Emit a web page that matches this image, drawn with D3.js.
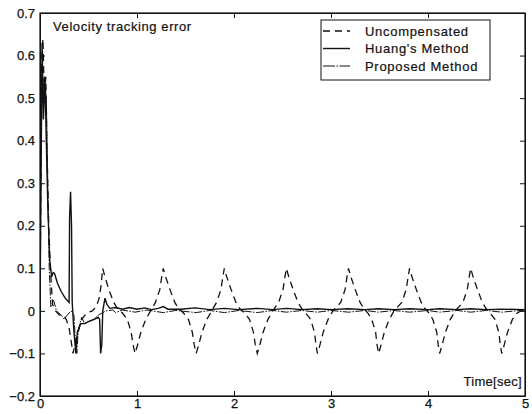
<!DOCTYPE html>
<html>
<head>
<meta charset="utf-8">
<script src="https://cdn.jsdelivr.net/npm/d3@7"></script>
<style>
body { margin: 0; background: #fff; }
svg { display: block; }
.axis text { font-family: Arial, "Liberation Sans", sans-serif; font-size: 13px; fill: #111; stroke: #111; stroke-width: 0.25px; }
.axis line, .axis path { stroke: #111; }
</style>
</head>
<body>
<svg id="vis" width="532" height="414"></svg>
<script>
// tick values
var xTicks = [0, 1, 2, 3, 4, 5];
var yTicks = [-0.2, -0.1, 0, 0.1, 0.2, 0.3, 0.4, 0.5, 0.6, 0.7];

var seriesNames = ["Uncompensated", "Huang's Method", "Proposed Method"];

// [time, error]
var uncompensated = [
	[0,0],[0.01,0.35],[0.02,0.6],[0.03,0.64],[0.045,0.5],[0.06,0.55],[0.075,0.35],[0.09,0.2],[0.105,0.11],[0.12,0.05],
	[0.13,0.015],[0.16,0.0],[0.2,-0.01],[0.24,-0.01],[0.27,-0.02],[0.3,-0.04],[0.32,-0.07],[0.34,-0.1],[0.36,-0.08],
	[0.39,-0.05],[0.43,-0.02],[0.48,-0.005],[0.54,0.0],
	[0.58,0.01],[0.61,0.03],[0.63,0.06],[0.646,0.1],[0.67,0.08],[0.71,0.05],[0.76,0.02],[0.8,0.005],[0.85,-0.005],
	[0.9,-0.02],[0.94,-0.05],[0.96,-0.08],[0.98,-0.1],[1.0,-0.085],[1.04,-0.05],[1.09,-0.02],[1.14,0.0],
	[1.19,0.02],[1.235,0.05],[1.255,0.08],[1.27,0.1],[1.295,0.08],[1.34,0.05],[1.39,0.02],[1.43,0.005],[1.48,-0.005],
	[1.53,-0.02],[1.57,-0.05],[1.59,-0.08],[1.61,-0.1],[1.63,-0.085],[1.67,-0.05],[1.72,-0.02],[1.77,0.0],
	[1.82,0.02],[1.865,0.05],[1.885,0.08],[1.9,0.1],[1.925,0.08],[1.97,0.05],[2.02,0.02],[2.06,0.005],[2.11,-0.005],
	[2.16,-0.02],[2.2,-0.05],[2.22,-0.08],[2.24,-0.1],[2.26,-0.085],[2.3,-0.05],[2.35,-0.02],[2.4,0.0],
	[2.46,0.02],[2.505,0.05],[2.525,0.08],[2.54,0.1],[2.565,0.08],[2.61,0.05],[2.66,0.02],[2.7,0.005],[2.74,-0.005],
	[2.79,-0.02],[2.83,-0.05],[2.845,-0.08],[2.86,-0.1],[2.88,-0.085],[2.92,-0.05],[2.97,-0.02],[3.02,0.0],
	[3.1,0.02],[3.145,0.05],[3.165,0.08],[3.18,0.1],[3.205,0.08],[3.25,0.05],[3.3,0.02],[3.34,0.005],[3.38,-0.005],
	[3.42,-0.02],[3.46,-0.05],[3.475,-0.08],[3.49,-0.1],[3.51,-0.085],[3.55,-0.05],[3.6,-0.02],[3.65,0.0],
	[3.73,0.02],[3.775,0.05],[3.795,0.08],[3.81,0.1],[3.835,0.08],[3.88,0.05],[3.93,0.02],[3.97,0.005],[4.01,-0.005],
	[4.05,-0.02],[4.09,-0.05],[4.105,-0.08],[4.12,-0.1],[4.14,-0.085],[4.18,-0.05],[4.23,-0.02],[4.28,0.0],
	[4.36,0.02],[4.405,0.05],[4.425,0.08],[4.44,0.1],[4.465,0.08],[4.51,0.05],[4.56,0.02],[4.6,0.005],[4.64,-0.005],
	[4.69,-0.02],[4.73,-0.05],[4.745,-0.08],[4.76,-0.1],[4.78,-0.085],[4.82,-0.05],[4.87,-0.02],[4.92,-0.005],[5.0,0.005]
];

var huang = [
	[0,0],[0.01,0.3],[0.022,0.63],[0.035,0.45],[0.05,0.55],[0.065,0.4],[0.08,0.25],[0.1,0.12],[0.12,0.08],[0.135,0.09],
	[0.15,0.088],[0.18,0.065],[0.22,0.045],[0.26,0.03],[0.3,0.02],[0.305,0.22],[0.315,0.28],[0.325,0.2],[0.332,0.02],
	[0.35,-0.05],[0.37,-0.1],[0.385,-0.05],[0.42,-0.03],[0.46,-0.03],[0.5,-0.025],[0.56,-0.02],[0.6,-0.015],
	[0.615,-0.02],[0.625,-0.1],[0.637,-0.08],[0.647,0.0],[0.67,0.03],[0.69,0.015],[0.72,0.006],[0.78,0.008],
	[0.85,0.004],[0.92,0.008],[1.0,0.004],[1.08,0.007],[1.15,0.003],[1.22,0.006],[1.27,0.01],[1.32,0.004],
	[1.45,0.004],[1.6,0.007],[1.75,0.003],[1.9,0.006],[2.05,0.003],[2.24,0.006],[2.4,0.003],[2.54,0.006],
	[2.7,0.003],[2.86,0.005],[3.0,0.003],[3.18,0.005],[3.35,0.003],[3.49,0.005],[3.65,0.003],[3.81,0.005],
	[4.0,0.003],[4.12,0.005],[4.3,0.003],[4.44,0.005],[4.6,0.003],[4.76,0.004],[5.0,0.003]
];

var proposed = [
	[0,0],[0.01,0.4],[0.018,0.57],[0.03,0.52],[0.045,0.55],[0.065,0.5],[0.08,0.3],[0.095,0.1],[0.112,0.01],[0.14,0.025],
	[0.17,0.0],[0.22,-0.01],[0.25,-0.02],[0.28,-0.01],[0.32,0.0],[0.35,-0.01],[0.37,-0.09],[0.38,-0.1],[0.39,-0.06],
	[0.41,-0.03],[0.43,-0.015],[0.46,-0.03],[0.5,-0.025],[0.55,-0.02],[0.6,-0.01],[0.64,-0.005],[0.68,0.0],
	[0.75,0.002],[0.78,-0.004],[0.85,0.002],[0.98,-0.003],[1.1,0.002],[1.27,-0.004],[1.4,0.001],[1.61,-0.004],
	[1.75,0.001],[1.9,-0.004],[2.05,0.001],[2.24,-0.004],[2.4,0.001],[2.54,-0.003],[2.7,0.001],[2.86,-0.003],
	[3.0,0.001],[3.18,-0.003],[3.35,0.001],[3.49,-0.003],[3.65,0.001],[3.81,-0.003],[4.0,0.001],[4.12,-0.003],
	[4.3,0.001],[4.44,-0.003],[4.6,0.001],[4.76,-0.003],[5.0,0.002]
];

var svg = d3.select("#vis"),
	margin = {top: 13, right: 7, bottom: 18, left: 40},
	width = +svg.attr("width"),
	height = +svg.attr("height");

var x = d3.scaleLinear().domain([0, 5]).range([margin.left, width - margin.right]);
var y = d3.scaleLinear().domain([-0.2, 0.7]).range([height - margin.bottom, margin.top]);

// axes, ticks inside on all four sides
svg.append("g").attr("class", "axis")
	.attr("transform", "translate(0," + (height - margin.bottom) + ")")
	.call(d3.axisBottom(x).tickValues(xTicks).tickSize(-5).tickSizeOuter(0).tickPadding(3).tickFormat(d3.format("d")));
svg.append("g").attr("class", "axis")
	.attr("transform", "translate(" + margin.left + ",0)")
	.call(d3.axisLeft(y).tickValues(yTicks).tickSize(-5).tickSizeOuter(0).tickPadding(5).tickFormat(function(d) { return d3.format("")(+d.toFixed(1)); }));
svg.append("g").attr("class", "axis")
	.attr("transform", "translate(0," + margin.top + ")")
	.call(d3.axisTop(x).tickValues(xTicks).tickSize(-5).tickSizeOuter(0).tickFormat(""));
svg.append("g").attr("class", "axis")
	.attr("transform", "translate(" + (width - margin.right) + ",0)")
	.call(d3.axisRight(y).tickValues(yTicks).tickSize(-5).tickSizeOuter(0).tickFormat(""));

svg.append("rect")
	.attr("x", x(0)).attr("y", y(0.7))
	.attr("width", x(5) - x(0)).attr("height", y(-0.2) - y(0.7))
	.attr("fill", "none").attr("stroke", "#111").attr("stroke-width", 1.2);

svg.append("clipPath").attr("id", "clip").append("rect")
	.attr("x", x(0)).attr("y", y(0.7))
	.attr("width", x(5) - x(0)).attr("height", y(-0.2) - y(0.7));

var line = d3.line()
	.x(function(d) { return x(d[0]); })
	.y(function(d) { return y(d[1]); });

var styles = [
	{data: uncompensated, dash: "7,5", w: 1.3},
	{data: huang, dash: null, w: 1.4},
	{data: proposed, dash: "8,1.5,1.5,1.5", w: 1.0}
];

var plot = svg.append("g").attr("clip-path", "url(#clip)");
styles.forEach(function(s) {
	plot.append("path")
		.attr("d", line(s.data))
		.attr("fill", "none")
		.attr("stroke", "#111")
		.attr("stroke-width", s.w)
		.attr("stroke-dasharray", s.dash);
});

// text
var font = "Arial, 'Liberation Sans', sans-serif";
svg.append("text")
	.attr("x", 53).attr("y", 31)
	.style("font-family", font).style("font-size", "13px").style("letter-spacing", "0.6px")
	.attr("fill", "#111").attr("stroke", "#111").attr("stroke-width", 0.2)
	.text("Velocity tracking error");

svg.append("text")
	.attr("x", 522).attr("y", 386).attr("text-anchor", "end")
	.style("font-family", font).style("font-size", "13px").style("letter-spacing", "0.3px")
	.attr("fill", "#111").attr("stroke", "#111").attr("stroke-width", 0.2)
	.text("Time[sec]");

// legend
var legend = svg.append("g");
legend.append("rect")
	.attr("x", 321).attr("y", 20).attr("width", 169).attr("height", 60)
	.attr("fill", "#fff").attr("stroke", "#111").attr("stroke-width", 1);

seriesNames.forEach(function(name, i) {
	var ly = 31 + i * 17.5;
	legend.append("line")
		.attr("x1", 323).attr("x2", 350).attr("y1", ly).attr("y2", ly)
		.attr("stroke", "#111").attr("stroke-width", styles[i].w)
		.attr("stroke-dasharray", i === 0 ? "7,5" : (i === 2 ? "12,1.5,1.5,1.5" : null));
	legend.append("text")
		.attr("x", 365).attr("y", ly + 4.5)
		.style("font-family", font).style("font-size", "13px").style("letter-spacing", "0.7px")
		.attr("fill", "#111").attr("stroke", "#111").attr("stroke-width", 0.2)
		.text(name);
});
</script>
</body>
</html>
